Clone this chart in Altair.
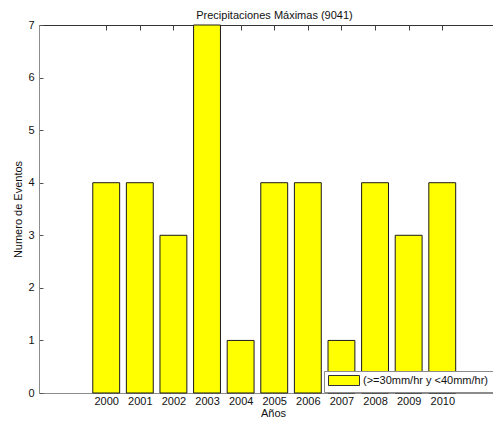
import altair as alt
import pandas as pd

# ---- data ----
years = [2000, 2001, 2002, 2003, 2004, 2005, 2006, 2007, 2008, 2009, 2010]
events = [4, 4, 3, 7, 1, 4, 4, 1, 4, 3, 4]
y_ticks = [0, 1, 2, 3, 4, 5, 6, 7]
series_label = "(>=30mm/hr y <40mm/hr)"
title_text = "Precipitaciones Máximas (9041)"
x_title = "Años"
y_title = "Numero de Eventos"

df = pd.DataFrame({"year": years, "events": events,
                   "serie": [series_label] * len(years)})

FONT = "Liberation Sans"
PLOT_W = 454
PLOT_H = 368
x_scale = alt.Scale(domain=[1998, 2011.51], nice=False, zero=False)
y_scale = alt.Scale(domain=[0, 7], nice=False)

base = alt.Chart(df).transform_calculate(
    x0="datum.year - 0.4", x1="datum.year + 0.4"
)

bars = base.mark_bar(stroke="#1a1a1a", strokeWidth=1, opacity=1).encode(
    x=alt.X("x0:Q", scale=x_scale, title=x_title,
            axis=alt.Axis(values=years, format="d", tickSize=0, labelPadding=2,
                          domainColor="#8c8c8c", labelFont=FONT, labelFontSize=11,
                          labelColor="#111111", labelBaseline="top",
                          titleFont=FONT, titleFontSize=11,
                          titleFontWeight="normal", titleColor="#111111",
                          titleX=234, titleY=23, titleBaseline="alphabetic",
                          titleAlign="center", grid=False, labelFlush=False)),
    x2="x1:Q",
    y=alt.Y("events:Q", scale=y_scale, title=y_title,
            axis=alt.Axis(values=y_ticks, format="d", tickSize=alt.ExprRef(expr="-4"),
                          tickColor="#555555", labelPadding=9,
                          domainColor="#8c8c8c", labelFont=FONT, labelFontSize=11,
                          labelColor="#111111", titleFont=FONT, titleFontSize=11,
                          titleFontWeight="normal", titleColor="#111111",
                          titleAngle=270, titleX=-21, titleY=PLOT_H / 2,
                          titleAlign="center", titleBaseline="middle",
                          grid=False)),
    y2=alt.datum(0),
    color=alt.Color("serie:N", scale=alt.Scale(range=["#ffff00"]),
                    legend=alt.Legend(title=None, orient="none", legendX=285,
                                      legendY=PLOT_H - 22,
                                      padding=4, strokeColor="#8c8c8c", fillColor="#ffffff",
                                      cornerRadius=0,
                                      symbolType="M-1,-1H5.2V1H-1Z", symbolSize=100,
                                      symbolStrokeColor="#333333", symbolStrokeWidth=1,
                                      symbolOpacity=1,
                                      labelFont=FONT, labelFontSize=11,
                                      labelColor="#111111", labelOffset=24)),
)

# top frame line with inward ticks; carries the chart title
top_axis = base.mark_point(opacity=0).encode(
    x=alt.X("x0:Q", scale=x_scale, title=title_text,
            axis=alt.Axis(orient="top", values=years, labels=False, domain=True,
                          domainColor="#333333",
                          tickSize=alt.ExprRef(expr="-5"), tickColor="#444444",
                          titleFont=FONT, titleFontSize=11, titleFontWeight="normal",
                          titleColor="#111111", titleX=235, titleY=-7,
                          titleBaseline="alphabetic", titleAlign="center",
                          grid=False)),
)

chart = alt.layer(bars, top_axis).resolve_axis(x="independent").properties(
    width=PLOT_W,
    height=PLOT_H,
    autosize=alt.AutoSizeParams(type="none"),
    padding={"left": 31, "top": 17, "right": 0, "bottom": 24},
).configure_view(strokeWidth=0).configure(background="#ffffff")

chart.save("out.html", embed_options={"renderer": "svg", "actions": False})
